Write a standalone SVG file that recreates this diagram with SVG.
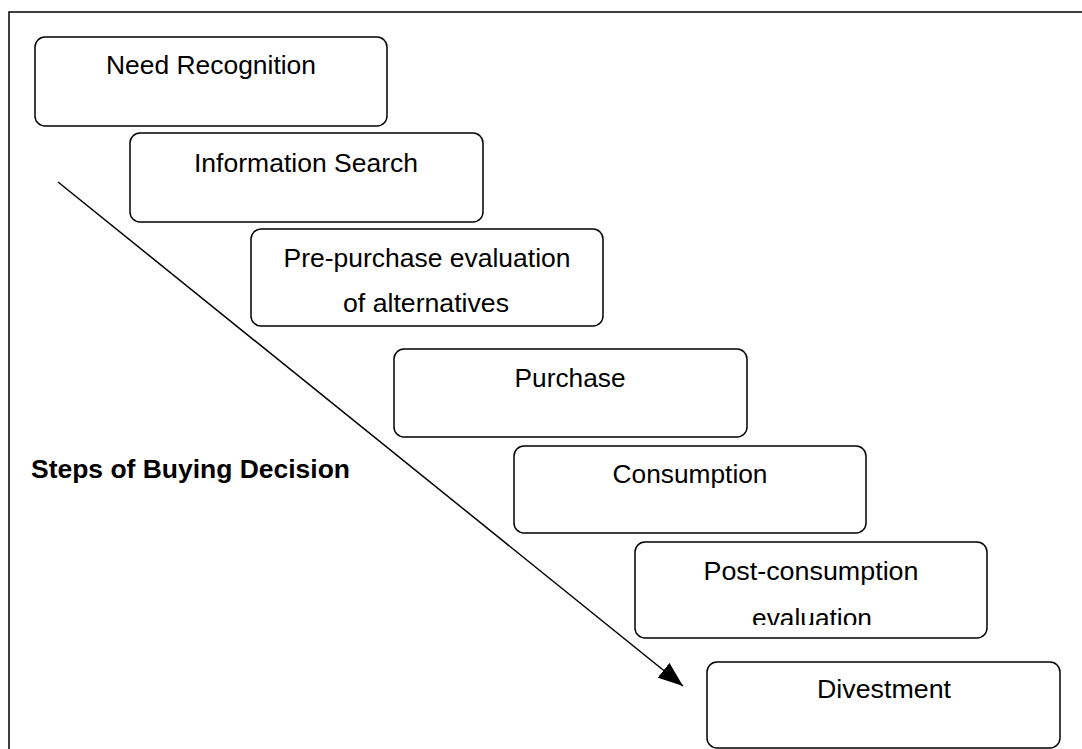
<svg xmlns="http://www.w3.org/2000/svg" width="1082" height="749" viewBox="0 0 1082 749">
  <style>
    .box { fill: #ffffff; stroke: #000000; stroke-width: 1.5; }
    .lbl { font-family: "Liberation Sans", Arial, sans-serif; font-size: 25px; fill: #000000; text-anchor: middle; }
    .title { font-family: "Liberation Sans", Arial, sans-serif; font-size: 25px; font-weight: bold; fill: #000000; }
    .conn { stroke: #000000; stroke-width: 1.5; fill: none; }
  </style>
  <defs>
    <marker id="arrow" viewBox="0 0 25 19" refX="25" refY="9.5" markerWidth="25" markerHeight="19" markerUnits="userSpaceOnUse" orient="auto">
      <path d="M0,0 L25,9.5 L0,19 Z" fill="#000000"/>
    </marker>
    <clipPath id="clipEval">
      <rect x="600" y="590" width="400" height="35"/>
    </clipPath>
  </defs>
  <rect x="0" y="0" width="1082" height="749" fill="#ffffff"/>
  <path d="M9,749 V12 H1082" fill="none" stroke="#000000" stroke-width="1.5"/>

  <g id="connectors">
    <line class="conn" x1="58" y1="182" x2="683" y2="686" marker-end="url(#arrow)"/>
  </g>

  <g id="node-need">
    <rect class="box" x="35" y="37" width="352" height="89" rx="10"/>
    <text class="lbl" x="211" y="74" textLength="210" lengthAdjust="spacingAndGlyphs">Need Recognition</text>
  </g>
  <g id="node-info">
    <rect class="box" x="130" y="133" width="353" height="89" rx="10"/>
    <text class="lbl" x="306" y="172" textLength="224" lengthAdjust="spacingAndGlyphs">Information Search</text>
  </g>
  <g id="node-prepurchase">
    <rect class="box" x="251" y="229" width="352" height="97" rx="10"/>
    <text class="lbl" x="427" y="267" textLength="287" lengthAdjust="spacingAndGlyphs">Pre-purchase evaluation</text>
    <text class="lbl" x="426" y="312" textLength="166" lengthAdjust="spacingAndGlyphs">of alternatives</text>
  </g>
  <g id="node-purchase">
    <rect class="box" x="394" y="349" width="353" height="88" rx="10"/>
    <text class="lbl" x="570" y="387" textLength="111" lengthAdjust="spacingAndGlyphs">Purchase</text>
  </g>
  <g id="node-consumption">
    <rect class="box" x="514" y="446" width="352" height="87" rx="10"/>
    <text class="lbl" x="690" y="483" textLength="155" lengthAdjust="spacingAndGlyphs">Consumption</text>
  </g>
  <g id="node-postconsumption">
    <rect class="box" x="635" y="542" width="352" height="96" rx="10"/>
    <text class="lbl" x="811" y="580" textLength="215" lengthAdjust="spacingAndGlyphs">Post-consumption</text>
    <text class="lbl" x="812" y="627" textLength="120" lengthAdjust="spacingAndGlyphs" clip-path="url(#clipEval)">evaluation</text>
  </g>
  <g id="node-divestment">
    <rect class="box" x="707" y="662" width="353" height="86" rx="10"/>
    <text class="lbl" x="884" y="698" textLength="134" lengthAdjust="spacingAndGlyphs">Divestment</text>
  </g>

  <g id="label-title">
    <text class="title" x="31" y="478" textLength="319" lengthAdjust="spacingAndGlyphs">Steps of Buying Decision</text>
  </g>
</svg>
